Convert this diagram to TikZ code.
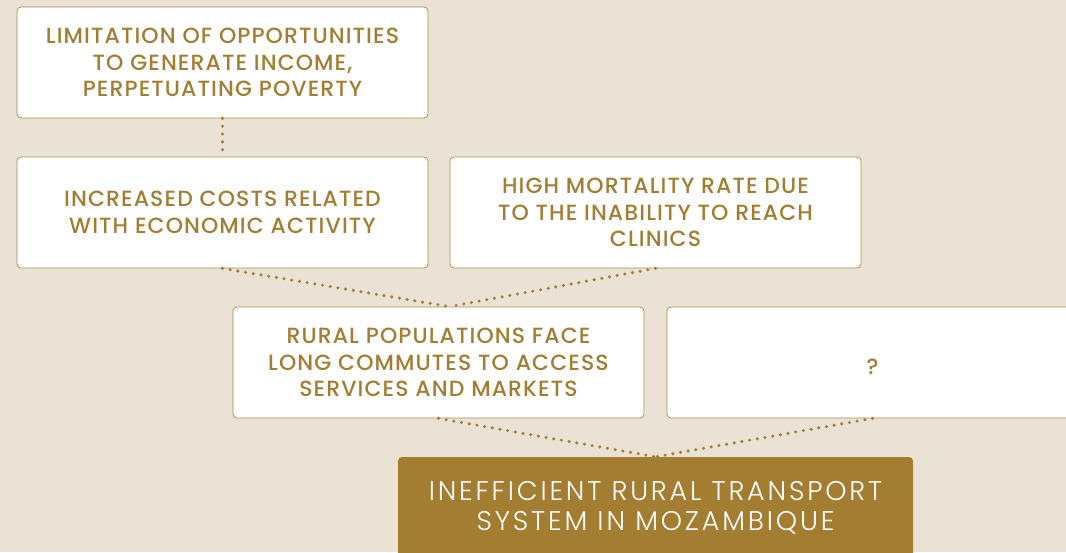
\documentclass[tikz,border=0pt]{standalone}
\usepackage{fontspec}
\setmainfont{Poppins}[UprightFont=* Medium, LetterSpace=5]
\newfontfamily\lightfont{Poppins}[UprightFont=* Light, LetterSpace=10.5]
\usepackage{tikz}
\definecolor{bg}{RGB}{234, 227, 213}
\definecolor{gold}{RGB}{163, 125, 50}
\definecolor{rim}{RGB}{176, 140, 72}
\usetikzlibrary{positioning}

\begin{document}
\begin{tikzpicture}[x=1pt, y=1pt,
  effect/.style={rectangle, rounded corners=4pt, fill=white, draw=rim, line width=0.8pt,
    minimum width=411pt, minimum height=111pt, align=center, text=gold,
    font=\fontsize{22}{26.5}\selectfont, execute at begin node={\rule{0pt}{24pt}}},
  problem/.style={rectangle, rounded corners=4pt, fill=gold, draw=none,
    minimum width=515pt, minimum height=101pt, align=center, text=white,
    font=\lightfont\fontsize{27}{30}\selectfont, execute at begin node={\rule{0pt}{22pt}}},
  link/.style={gold, line width=3.4pt, line cap=round, dash pattern=on 0pt off 7.8pt}]
\useasboundingbox (0, 0) rectangle (1066, -552);
\clip (0, 0) rectangle (1066, -552);
\fill [bg] (0, 0) rectangle (1066, -552);
\node (poverty) [effect] at (222.5, -62.5) {LIMITATION OF OPPORTUNITIES\\TO GENERATE INCOME,\\PERPETUATING POVERTY};
\node (costs) [effect] at (222.5, -212.5) {INCREASED COSTS RELATED\\WITH ECONOMIC ACTIVITY};
\node (mortality) [effect] at (655.5, -212.5) {HIGH MORTALITY RATE DUE\\TO THE INABILITY TO REACH\\CLINICS};
\node (commute) [effect] at (438.5, -362.5) {RURAL POPULATIONS FACE\\LONG COMMUTES TO ACCESS\\SERVICES AND MARKETS};
\node (unknown) [effect] at (872.5, -362.5) {?};
\node (transport) [problem] at (655.5, -507.5) {INEFFICIENT RURAL TRANSPORT\\SYSTEM IN MOZAMBIQUE};
\coordinate (meet) at ([xshift=11pt]commute.north);
\draw [link] (poverty) -- (costs);
\draw [link] (costs.south) -- (meet);
\draw [link] (mortality.south) -- (meet);
\draw [link] (commute.south) -- (transport.north);
\draw [link] (unknown.south) -- (transport.north);
\end{tikzpicture}
\end{document}
